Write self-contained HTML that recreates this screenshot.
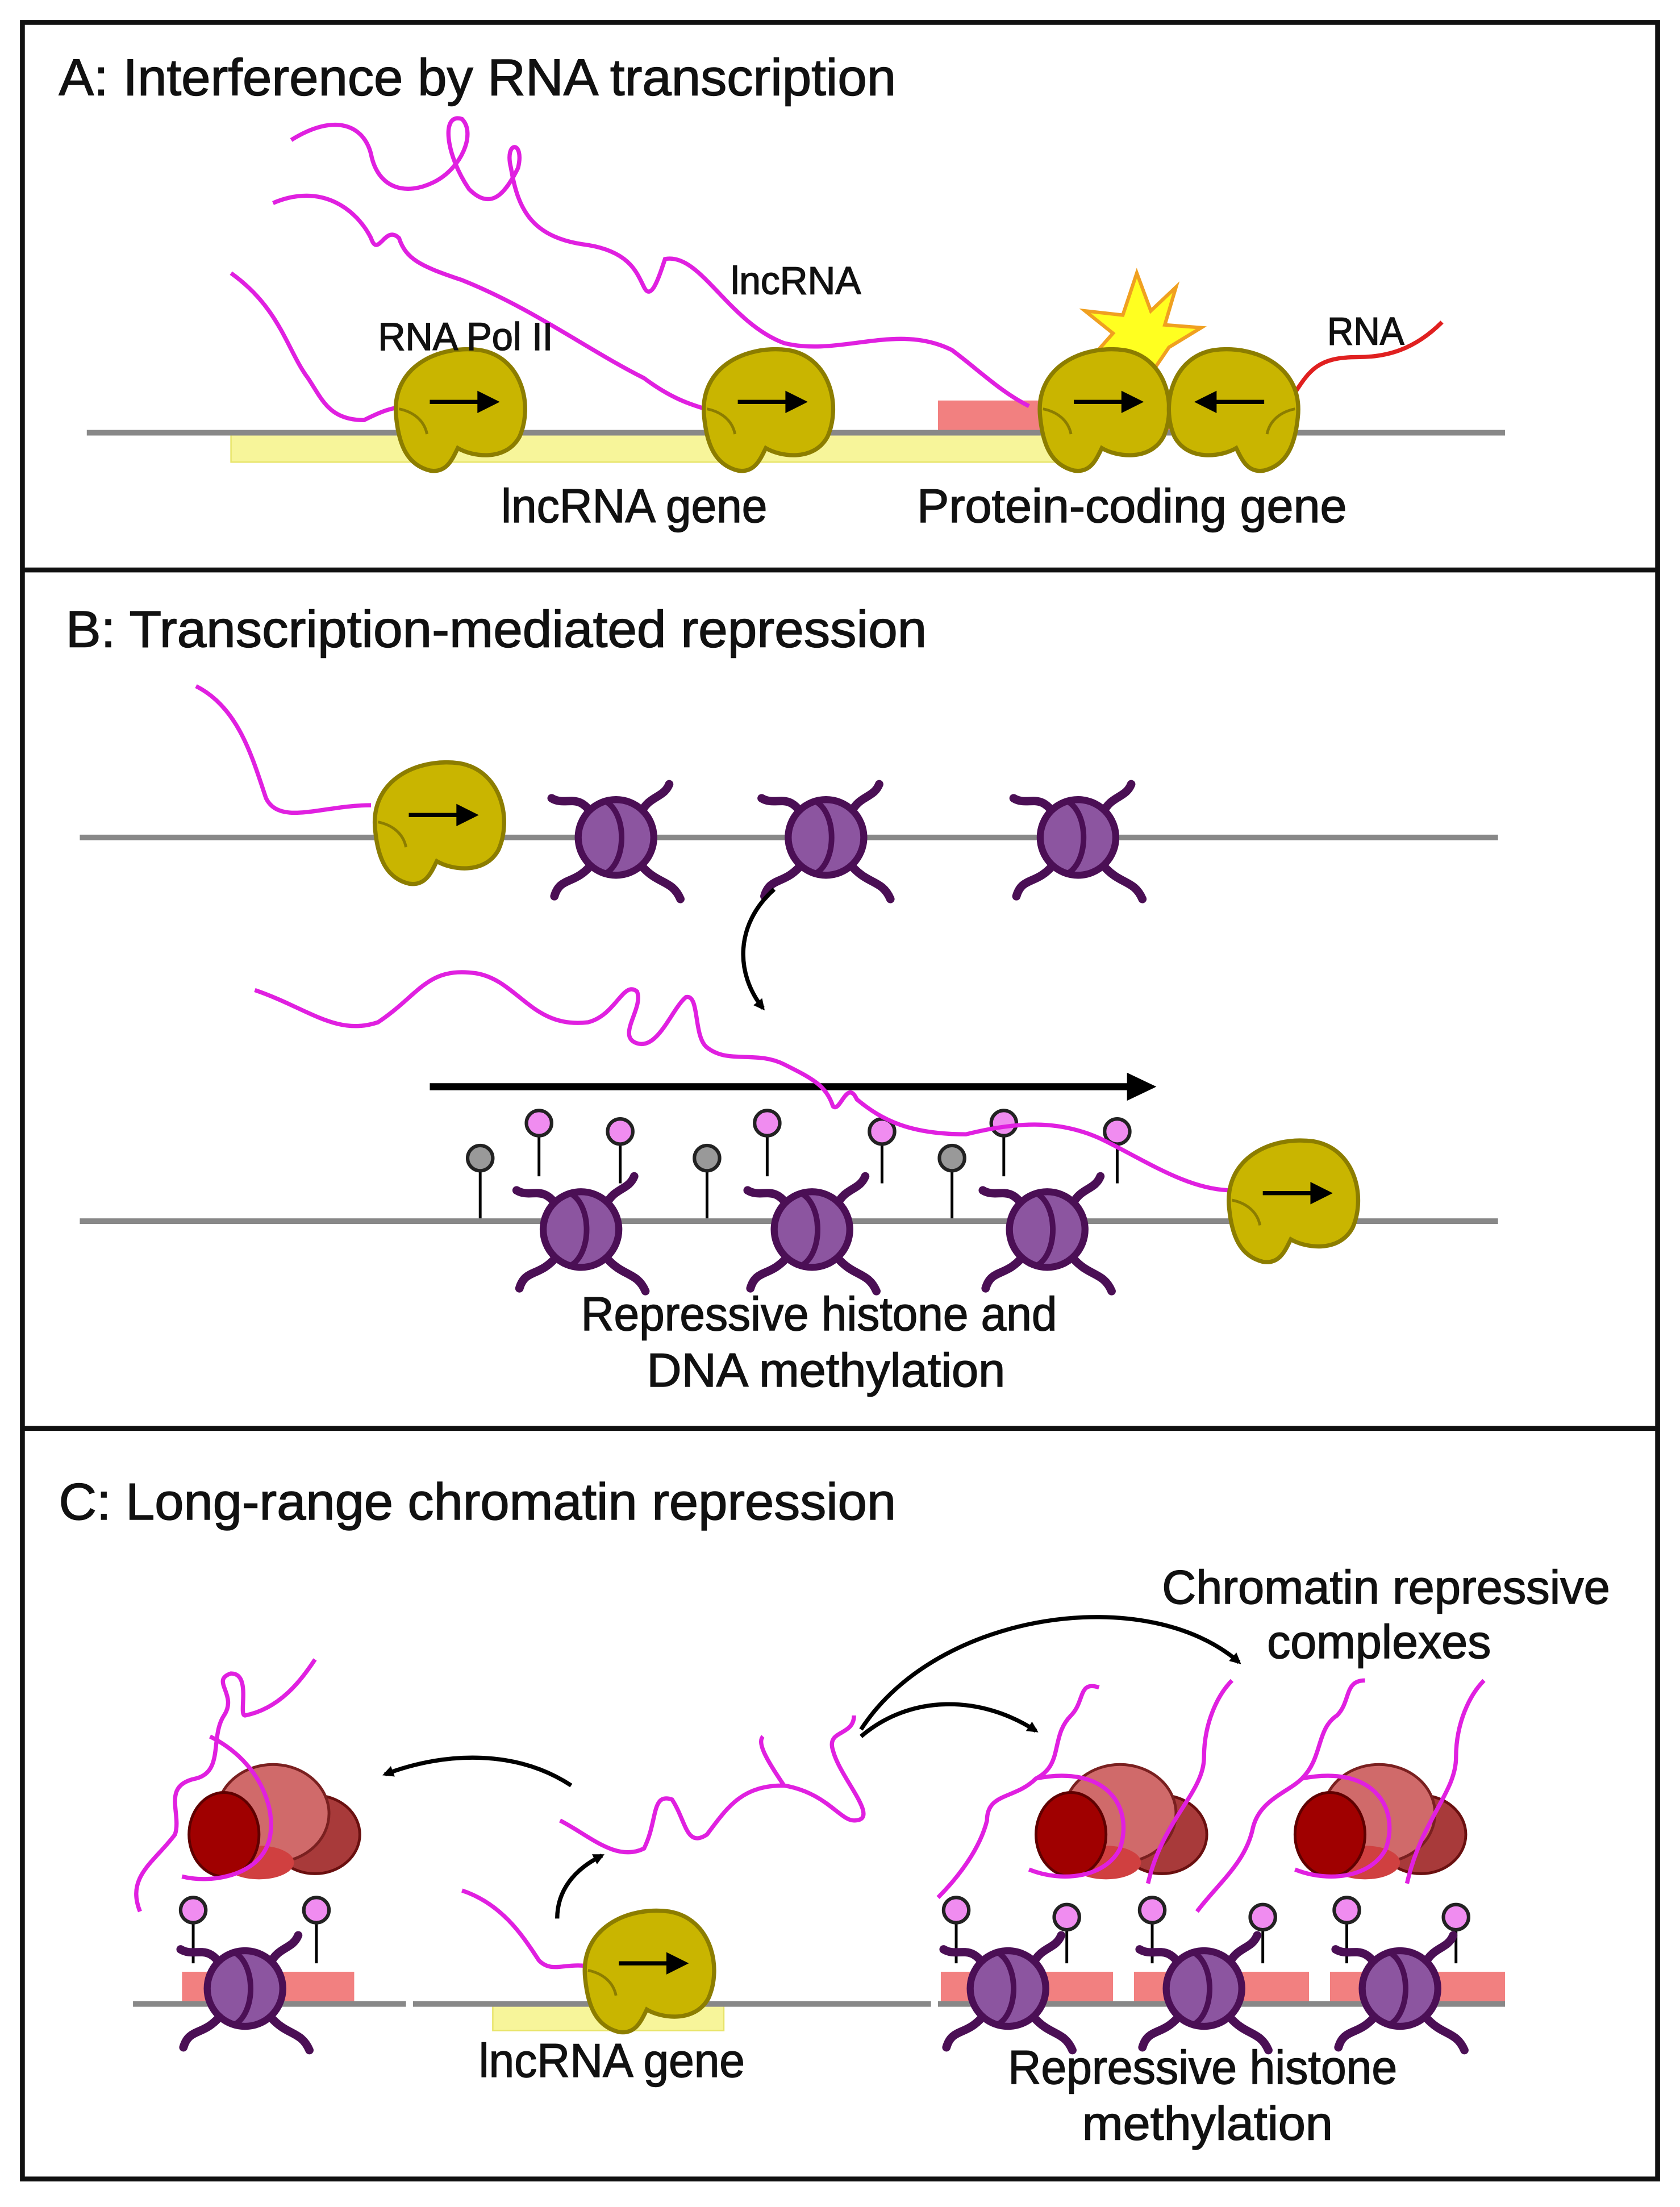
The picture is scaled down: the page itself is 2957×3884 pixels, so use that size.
<!DOCTYPE html>
<html><head><meta charset="utf-8"><style>
html,body{margin:0;padding:0;background:#fff;}
svg{display:block;}
text{font-family:"Liberation Sans",sans-serif;fill:#111;stroke:#111;stroke-width:0.6;}
</style></head><body>
<svg width="2957" height="3884" viewBox="0 0 1200 1576" preserveAspectRatio="none" xmlns="http://www.w3.org/2000/svg">
<defs>
<symbol id="pol" viewBox="-50 -50 100 100" overflow="visible">
<path d="M-42,8 C-46,-28 -12,-44 18,-40 C48,-35 56,0 46,22 C36,40 12,36 2,30 C-2,38 -6,48 -18,46 C-34,42 -40,28 -42,8 Z" fill="#c9b500" stroke="#8c7d00" stroke-width="3"/>
<path d="M-40,2 C-30,4 -22,10 -20,20" fill="none" stroke="#8c7d00" stroke-width="2"/>
<line x1="-18" y1="-3" x2="22" y2="-3" stroke="#000" stroke-width="3"/>
<path d="M16,-11 L32,-3 L16,5 Z" fill="#000"/>
</symbol>
<symbol id="nuc" viewBox="-60 -60 120 120" overflow="visible">
<g fill="none" stroke="#4b0f55" stroke-width="6" stroke-linecap="round">
<path d="M-18,-18 C-28,-32 -36,-22 -46,-28"/>
<path d="M18,-18 C24,-30 34,-28 38,-38"/>
<path d="M-18,20 C-30,34 -40,28 -44,42"/>
<path d="M18,20 C30,34 40,30 46,44"/>
</g>
<circle r="27" fill="#8c55a0" stroke="#4b0f55" stroke-width="5"/>
<path d="M-8,-26 C8,-18 8,18 -8,26" fill="none" stroke="#4b0f55" stroke-width="4"/>
</symbol>
<symbol id="cplx" viewBox="-70 -50 140 100" overflow="visible">
<ellipse cx="35" cy="10" rx="32" ry="28" fill="#a83a3a" stroke="#6a1010" stroke-width="2"/>
<ellipse cx="5" cy="-5" rx="40" ry="35" fill="#d06a6a" stroke="#7a2020" stroke-width="2"/>
<ellipse cx="-5" cy="30" rx="25" ry="12" fill="#d04040"/>
<ellipse cx="-30" cy="10" rx="25" ry="30" fill="#a00000" stroke="#600000" stroke-width="2"/>
</symbol>
<marker id="ah" markerWidth="8" markerHeight="8" refX="6" refY="4" orient="auto" markerUnits="userSpaceOnUse" viewBox="0 0 8 8"><path d="M0,0 L8,4 L0,8 Z" fill="#000"/></marker>
</defs>
<rect x="0" y="0" width="1200" height="1576" fill="#fff"/>
<rect x="16" y="16" width="1168" height="1540" fill="none" stroke="#111" stroke-width="3.5"/>
<line x1="16" y1="407" x2="1184" y2="407" stroke="#111" stroke-width="3.5"/>
<line x1="16" y1="1020" x2="1184" y2="1020" stroke="#111" stroke-width="3.5"/>

<!-- Panel A -->
<text x="42" y="68" font-size="37" textLength="598" lengthAdjust="spacingAndGlyphs">A: Interference by RNA transcription</text>
<rect x="165" y="310" width="610" height="20" fill="#f7f59a" stroke="#e8e46a" stroke-width="1"/>
<rect x="670" y="286" width="180" height="23" fill="#f28080"/>
<line x1="62" y1="309" x2="1075" y2="309" stroke="#888" stroke-width="4"/>
<path d="M812,195 L822,222 L840,205 L832,232 L858,234 L835,248 L820,270 L808,255 L780,255 L795,238 L775,222 L802,225 Z" fill="#ffff20" stroke="#f0a020" stroke-width="2.5"/>
<g fill="none" stroke="#e020e0" stroke-width="3">
<path d="M208,100 C240,80 260,90 265,110 C270,135 290,140 310,130 C330,120 340,95 330,85 C315,80 318,110 335,135 C350,150 360,140 370,120 C375,100 360,100 365,120 C370,150 380,170 420,175 C450,180 455,195 460,205 C465,215 470,200 475,185 C500,180 520,230 560,245 C600,255 640,230 680,250 C700,265 715,280 735,290"/>
<path d="M195,145 C230,130 255,150 265,170 C270,185 275,160 285,170 C290,185 300,190 330,200 C380,220 420,250 460,270 C480,285 495,290 515,295"/>
<path d="M165,195 C200,220 205,250 220,270 C230,285 235,300 260,300 C270,295 280,290 295,290"/>
<path d="M922,285 C935,265 940,255 970,255 C990,255 1010,250 1030,230" stroke="#e02020"/>
</g>
<use href="#pol" x="275" y="240" width="100" height="100"/>
<use href="#pol" x="495" y="240" width="100" height="100"/>
<use href="#pol" x="735" y="240" width="100" height="100"/>
<g transform="translate(1820,0) scale(-1,1)"><use href="#pol" x="885" y="240" width="100" height="100"/></g>
<text x="270" y="250" font-size="28" textLength="125" lengthAdjust="spacingAndGlyphs">RNA Pol II</text>
<text x="522" y="210" font-size="28" textLength="93" lengthAdjust="spacingAndGlyphs">lncRNA</text>
<text x="948" y="246" font-size="28" textLength="55" lengthAdjust="spacingAndGlyphs">RNA</text>
<text x="358" y="373" font-size="34" textLength="190" lengthAdjust="spacingAndGlyphs">lncRNA gene</text>
<text x="655" y="373" font-size="34" textLength="307" lengthAdjust="spacingAndGlyphs">Protein-coding gene</text>

<!-- Panel B -->
<text x="47" y="462" font-size="37" textLength="615" lengthAdjust="spacingAndGlyphs">B: Transcription-mediated repression</text>
<line x1="57" y1="598" x2="1070" y2="598" stroke="#888" stroke-width="4"/>
<path d="M140,490 C170,505 180,540 190,570 C200,590 230,575 265,575" fill="none" stroke="#e020e0" stroke-width="3"/>
<use href="#pol" x="260" y="535" width="100" height="100"/>
<use href="#nuc" x="380" y="538" width="120" height="120"/>
<use href="#nuc" x="530" y="538" width="120" height="120"/>
<use href="#nuc" x="710" y="538" width="120" height="120"/>
<path d="M553,635 C525,660 525,695 545,720" fill="none" stroke="#000" stroke-width="3" marker-end="url(#ah)"/>
<line x1="307" y1="776" x2="810" y2="776" stroke="#000" stroke-width="5"/>
<path d="M805,766 L826,776 L805,786 Z" fill="#000"/>
<line x1="57" y1="872" x2="1070" y2="872" stroke="#888" stroke-width="4"/>
<g stroke="#000" stroke-width="2">
<line x1="343" y1="835" x2="343" y2="870"/><line x1="505" y1="835" x2="505" y2="870"/><line x1="680" y1="835" x2="680" y2="870"/>
<line x1="385" y1="810" x2="385" y2="840"/><line x1="443" y1="815" x2="443" y2="845"/>
<line x1="548" y1="810" x2="548" y2="840"/><line x1="630" y1="815" x2="630" y2="845"/>
<line x1="717" y1="810" x2="717" y2="840"/><line x1="798" y1="815" x2="798" y2="845"/>
</g>
<g stroke="#222" stroke-width="2.5">
<circle cx="343" cy="827" r="9" fill="#999"/><circle cx="505" cy="827" r="9" fill="#999"/><circle cx="680" cy="827" r="9" fill="#999"/>
<circle cx="385" cy="802" r="9" fill="#f08cf0"/><circle cx="443" cy="808" r="9" fill="#f08cf0"/>
<circle cx="548" cy="802" r="9" fill="#f08cf0"/><circle cx="630" cy="808" r="9" fill="#f08cf0"/>
<circle cx="717" cy="802" r="9" fill="#f08cf0"/><circle cx="798" cy="808" r="9" fill="#f08cf0"/>
</g>
<use href="#nuc" x="355" y="818" width="120" height="120"/>
<use href="#nuc" x="520" y="818" width="120" height="120"/>
<use href="#nuc" x="688" y="818" width="120" height="120"/>
<path d="M182,707 C220,720 240,740 270,730 C300,710 305,690 340,695 C370,700 380,735 420,730 C440,725 445,700 455,708 C460,720 440,740 455,745 C470,750 480,720 490,712 C500,710 495,740 505,748 C520,760 540,750 560,760 C580,770 590,775 595,790 C600,795 605,770 612,785 C630,800 650,810 690,810 C730,800 760,800 790,815 C820,830 850,850 880,850" fill="none" stroke="#e020e0" stroke-width="3"/>
<use href="#pol" x="870" y="805" width="100" height="100"/>
<text x="415" y="950" font-size="34" textLength="340" lengthAdjust="spacingAndGlyphs">Repressive histone and</text>
<text x="462" y="990" font-size="34" textLength="256" lengthAdjust="spacingAndGlyphs">DNA methylation</text>

<!-- Panel C -->
<text x="42" y="1085" font-size="37" textLength="598" lengthAdjust="spacingAndGlyphs">C: Long-range chromatin repression</text>
<text x="830" y="1145" font-size="34" textLength="320" lengthAdjust="spacingAndGlyphs">Chromatin repressive</text>
<text x="905" y="1184" font-size="34" textLength="160" lengthAdjust="spacingAndGlyphs">complexes</text>
<rect x="352" y="1430" width="165" height="20" fill="#f7f59a" stroke="#e8e46a" stroke-width="1"/>
<g fill="#f28080"><rect x="130" y="1408" width="123" height="22"/><rect x="672" y="1408" width="123" height="22"/><rect x="810" y="1408" width="125" height="22"/><rect x="950" y="1408" width="125" height="22"/></g>
<g stroke="#888" stroke-width="4"><line x1="95" y1="1431" x2="290" y2="1431"/><line x1="295" y1="1431" x2="665" y2="1431"/><line x1="670" y1="1431" x2="1075" y2="1431"/></g>
<g stroke="#000" stroke-width="2">
<line x1="138" y1="1372" x2="138" y2="1402"/><line x1="226" y1="1372" x2="226" y2="1402"/>
<line x1="683" y1="1372" x2="683" y2="1402"/><line x1="762" y1="1377" x2="762" y2="1402"/>
<line x1="823" y1="1372" x2="823" y2="1402"/><line x1="902" y1="1377" x2="902" y2="1402"/>
<line x1="962" y1="1372" x2="962" y2="1402"/><line x1="1040" y1="1377" x2="1040" y2="1402"/>
</g>
<g stroke="#222" stroke-width="2.5" fill="#f08cf0">
<circle cx="138" cy="1364" r="9"/><circle cx="226" cy="1364" r="9"/>
<circle cx="683" cy="1364" r="9"/><circle cx="762" cy="1369" r="9"/>
<circle cx="823" cy="1364" r="9"/><circle cx="902" cy="1369" r="9"/>
<circle cx="962" cy="1364" r="9"/><circle cx="1040" cy="1369" r="9"/>
</g>
<use href="#nuc" x="115" y="1360" width="120" height="120"/>
<use href="#nuc" x="660" y="1360" width="120" height="120"/>
<use href="#nuc" x="800" y="1360" width="120" height="120"/>
<use href="#nuc" x="940" y="1360" width="120" height="120"/>
<use href="#cplx" x="120" y="1250" width="140" height="100"/>
<use href="#cplx" x="725" y="1250" width="140" height="100"/>
<use href="#cplx" x="910" y="1250" width="140" height="100"/>
<g fill="none" stroke="#e020e0" stroke-width="3">
<path d="M100,1365 C90,1340 110,1330 125,1310 C130,1295 115,1275 140,1270 C160,1265 150,1240 160,1225 C170,1210 150,1200 165,1195 C180,1195 170,1225 175,1225 C200,1220 215,1200 225,1185 M150,1240 C190,1260 200,1300 190,1320 C180,1340 150,1345 130,1340"/>
<path d="M400,1300 C420,1310 440,1330 460,1320 C470,1300 465,1280 480,1285 C490,1300 490,1320 505,1310 C520,1290 530,1275 560,1275 C590,1280 600,1300 610,1300 C630,1300 600,1270 595,1250 C590,1235 610,1240 610,1225 M560,1275 C550,1260 540,1245 545,1240"/>
<path d="M670,1355 C685,1340 700,1320 705,1300 C705,1280 725,1285 740,1270 C760,1260 750,1240 765,1225 C775,1215 770,1200 785,1205 M740,1270 C790,1260 810,1290 800,1320 C790,1340 760,1345 735,1335 M820,1345 C830,1300 860,1280 860,1255 C860,1230 870,1210 880,1200"/>
<path d="M855,1365 C870,1345 890,1330 895,1305 C900,1285 920,1280 930,1270 C945,1255 940,1235 955,1225 C965,1215 960,1200 975,1200 M930,1270 C980,1260 1000,1290 990,1320 C980,1340 950,1345 925,1335 M1005,1345 C1015,1300 1040,1280 1040,1255 C1040,1230 1050,1210 1060,1200"/>
<path d="M330,1350 C360,1360 375,1385 385,1400 C395,1410 405,1400 425,1405"/>
</g>
<use href="#pol" x="410" y="1355" width="100" height="100"/>
<g fill="none" stroke="#000" stroke-width="3">
<path d="M408,1275 C370,1250 320,1250 275,1267" marker-end="url(#ah)"/>
<path d="M398,1370 C398,1350 410,1335 430,1325" marker-end="url(#ah)"/>
<path d="M615,1240 C650,1210 700,1210 740,1236" marker-end="url(#ah)"/>
<path d="M615,1235 C670,1150 820,1130 885,1187" marker-end="url(#ah)"/>
</g>
<text x="342" y="1483" font-size="34" textLength="190" lengthAdjust="spacingAndGlyphs">lncRNA gene</text>
<text x="720" y="1488" font-size="34" textLength="278" lengthAdjust="spacingAndGlyphs">Repressive histone</text>
<text x="773" y="1528" font-size="34" textLength="179" lengthAdjust="spacingAndGlyphs">methylation</text>
</svg>
</body></html>
